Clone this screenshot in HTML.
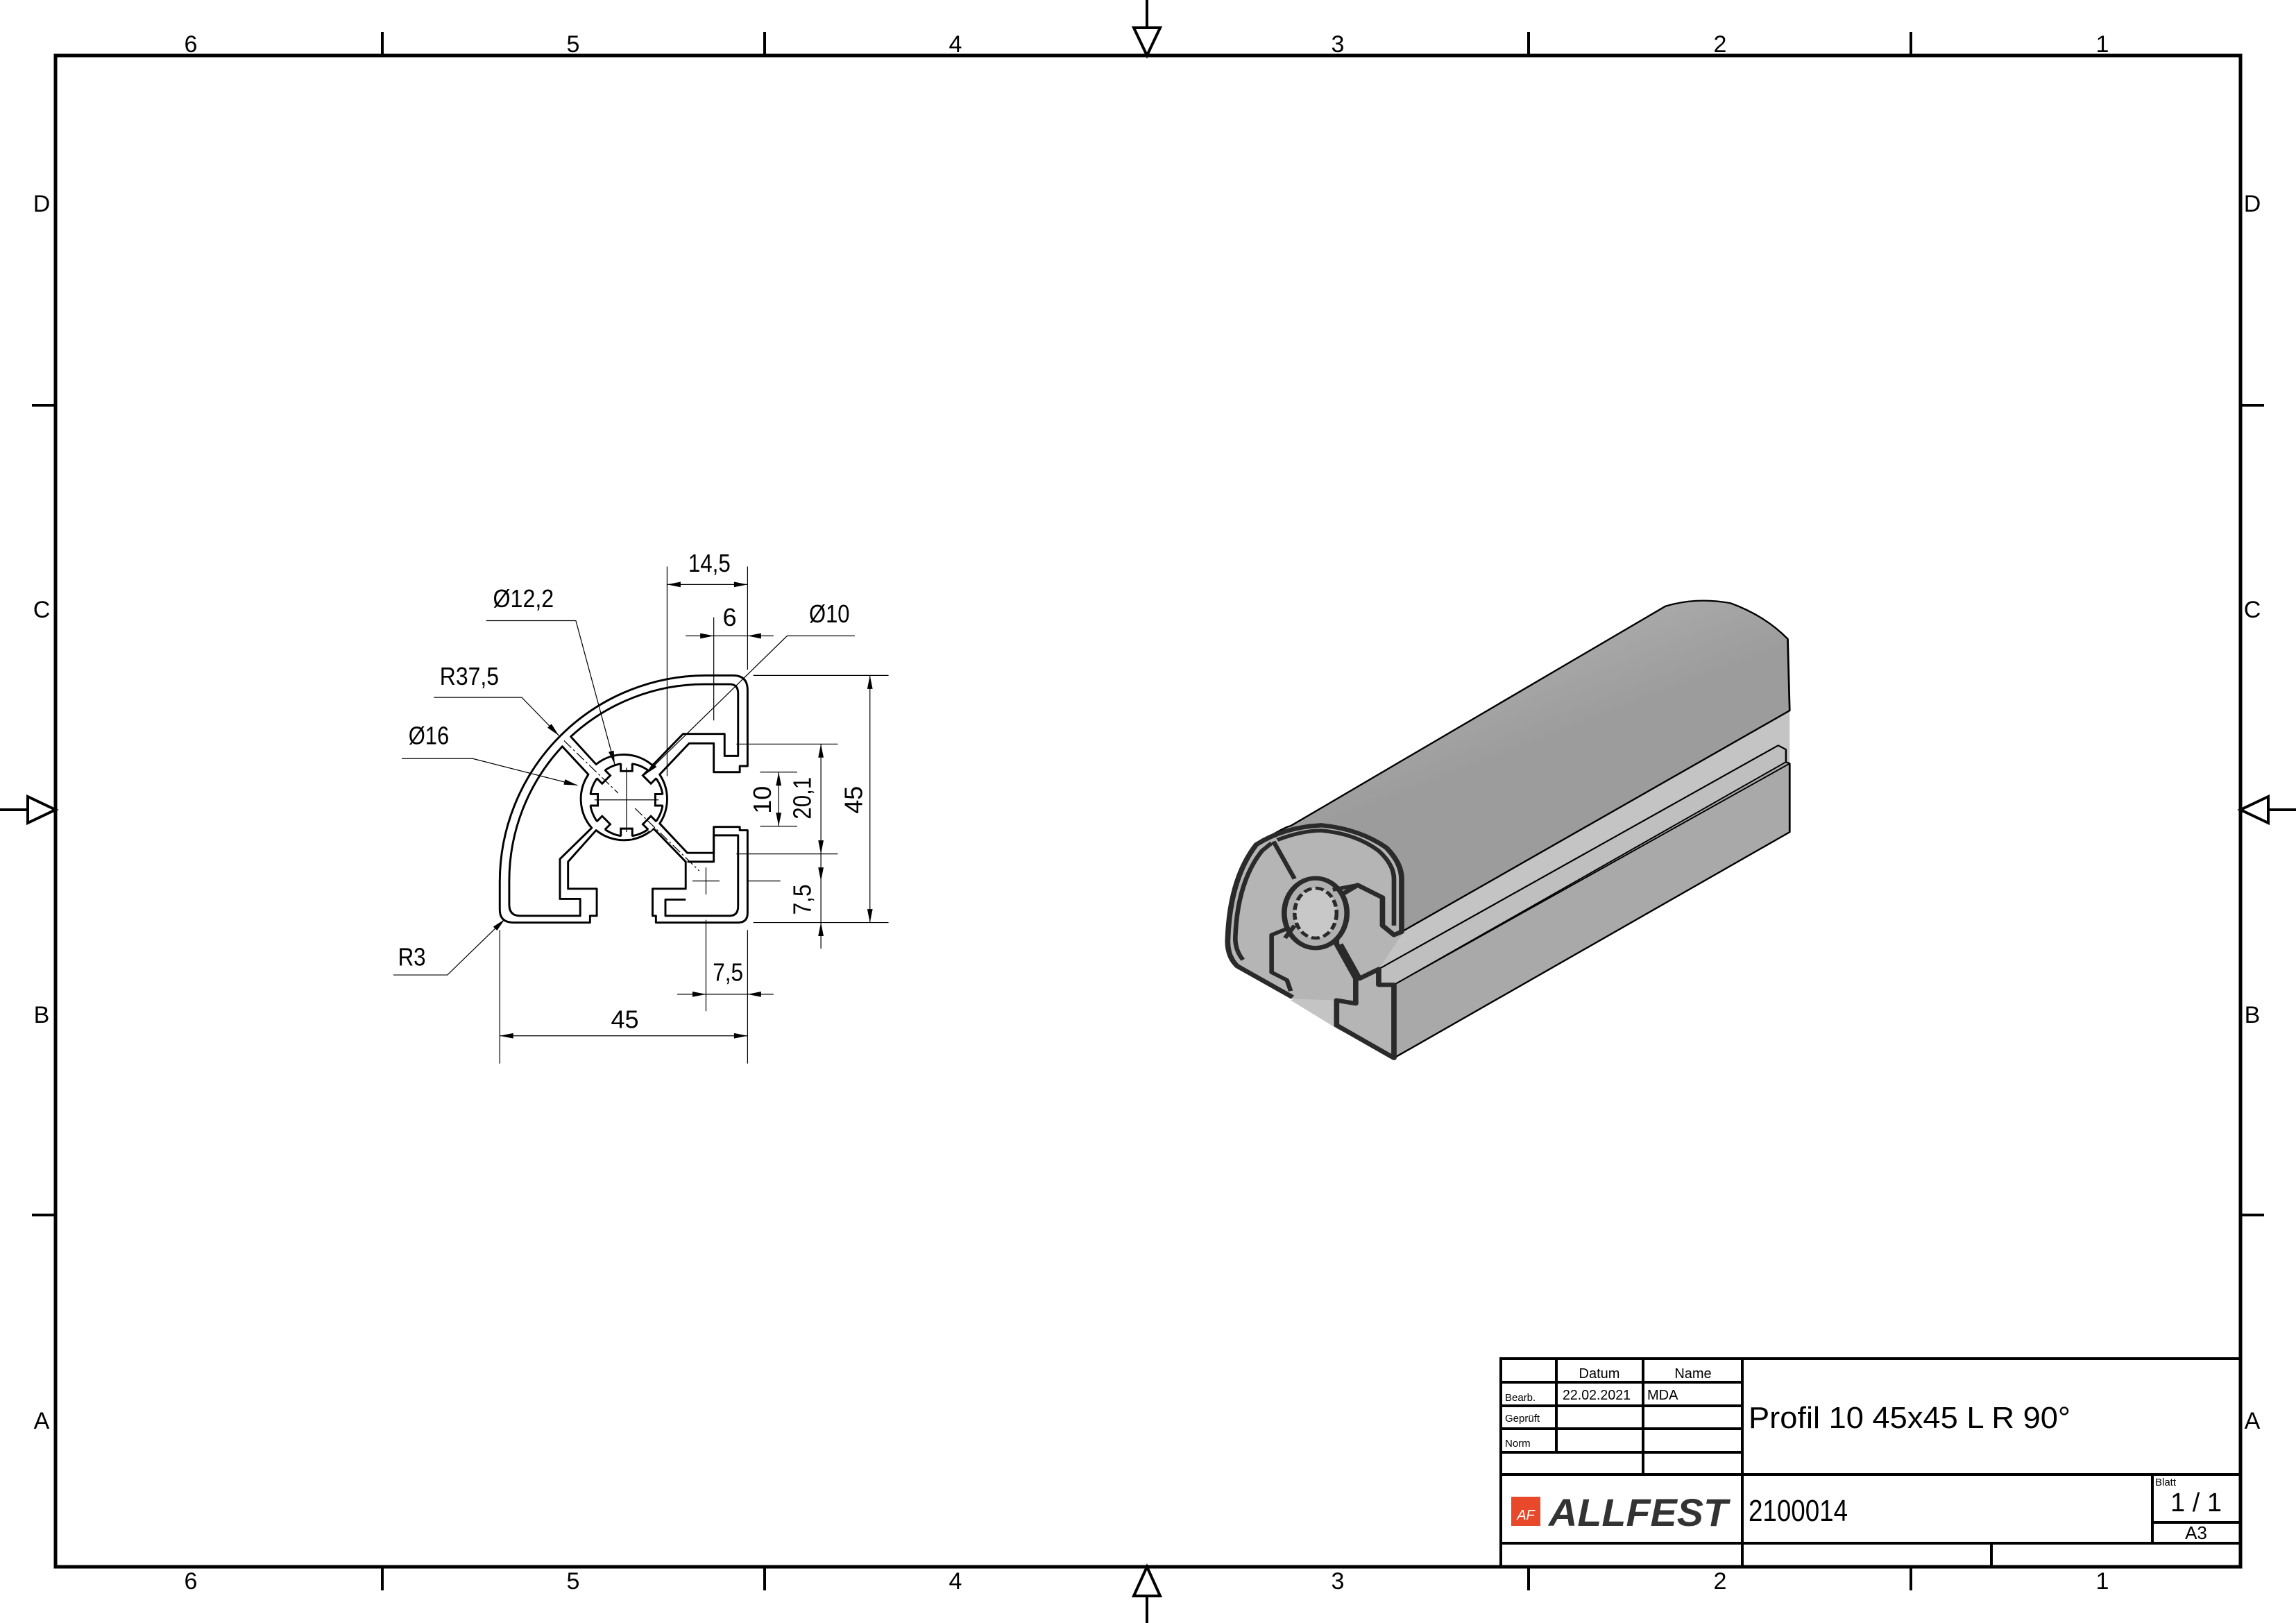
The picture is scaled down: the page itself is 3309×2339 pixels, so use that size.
<!DOCTYPE html>
<html><head><meta charset="utf-8"><style>
html,body{margin:0;padding:0;background:#fff}
svg{display:block}
text{font-family:"Liberation Sans Narrow","Liberation Sans",sans-serif;fill:#000}
</style></head><body>
<svg width="3309" height="2339" viewBox="0 0 3309 2339" xmlns="http://www.w3.org/2000/svg">
<defs>
<linearGradient id="sh" x1="0" y1="0" x2="0.35" y2="0.55">
<stop offset="0" stop-color="#9a9a9a"/><stop offset="0.45" stop-color="#bababa"/><stop offset="0.62" stop-color="#aaaaaa"/><stop offset="1" stop-color="#9c9c9c"/>
</linearGradient>
</defs>
<!-- border -->
<rect x="80" y="80" width="3149" height="2178" fill="none" stroke="#000" stroke-width="5"/>
<g stroke="#000" stroke-width="4">
<line x1="551" y1="46" x2="551" y2="80"/><line x1="1102" y1="46" x2="1102" y2="80"/><line x1="2203" y1="46" x2="2203" y2="80"/><line x1="2754" y1="46" x2="2754" y2="80"/>
<line x1="551" y1="2258" x2="551" y2="2292"/><line x1="1102" y1="2258" x2="1102" y2="2292"/><line x1="2203" y1="2258" x2="2203" y2="2292"/><line x1="2754" y1="2258" x2="2754" y2="2292"/>
<line x1="46" y1="584" x2="80" y2="584"/><line x1="46" y1="1751" x2="80" y2="1751"/>
<line x1="3229" y1="584" x2="3263" y2="584"/><line x1="3229" y1="1751" x2="3263" y2="1751"/>
<line x1="1653" y1="0" x2="1653" y2="40"/><line x1="1653" y1="2300" x2="1653" y2="2339"/>
<line x1="0" y1="1167" x2="40" y2="1167"/><line x1="3269" y1="1167" x2="3309" y2="1167"/>
</g>
<g fill="none" stroke="#000" stroke-width="4">
<polygon points="1634,40 1672,40 1653,80"/><polygon points="1634,2300 1672,2300 1653,2258"/>
<polygon points="40,1148 40,1186 80,1167"/><polygon points="3269,1148 3269,1186 3229,1167"/>
</g>
<g font-size="34" text-anchor="middle">
<text x="275" y="75">6</text><text x="826" y="75">5</text><text x="1377" y="75">4</text><text x="1928" y="75">3</text><text x="2479" y="75">2</text><text x="3030" y="75">1</text>
<text x="275" y="2290">6</text><text x="826" y="2290">5</text><text x="1377" y="2290">4</text><text x="1928" y="2290">3</text><text x="2479" y="2290">2</text><text x="3030" y="2290">1</text>
<text x="60" y="305">D</text><text x="60" y="890">C</text><text x="60" y="1474">B</text><text x="60" y="2059">A</text>
<text x="3246" y="305">D</text><text x="3246" y="890">C</text><text x="3246" y="1474">B</text><text x="3246" y="2059">A</text>
</g>

<!-- title block -->
<g stroke="#000" stroke-width="4" fill="none">
<rect x="2163" y="1958" width="1066" height="300"/>
<line x1="2163" y1="1992" x2="2511" y2="1992"/>
<line x1="2163" y1="2026" x2="2511" y2="2026"/>
<line x1="2163" y1="2059" x2="2511" y2="2059"/>
<line x1="2163" y1="2093" x2="2511" y2="2093"/>
<line x1="2163" y1="2125" x2="3229" y2="2125"/>
<line x1="2163" y1="2224" x2="3229" y2="2224"/>
<line x1="2243" y1="1958" x2="2243" y2="2093"/>
<line x1="2368" y1="1958" x2="2368" y2="2125"/>
<line x1="2511" y1="1958" x2="2511" y2="2258"/>
<line x1="3102" y1="2125" x2="3102" y2="2224"/>
<line x1="3102" y1="2194" x2="3229" y2="2194"/>
<line x1="2870" y1="2224" x2="2870" y2="2258"/>
</g>
<g font-size="20">
<text x="2305" y="1986" text-anchor="middle">Datum</text>
<text x="2440" y="1986" text-anchor="middle">Name</text>
<text x="2252" y="2017" textLength="98" lengthAdjust="spacingAndGlyphs">22.02.2021</text>
<text x="2374" y="2017">MDA</text>
</g>
<g font-size="15">
<text x="2169" y="2019">Bearb.</text>
<text x="2169" y="2049">Geprüft</text>
<text x="2169" y="2085">Norm</text>
<text x="3106" y="2141">Blatt</text>
</g>
<text x="2520" y="2058" font-size="44" textLength="464" lengthAdjust="spacingAndGlyphs">Profil 10 45x45 L R 90°</text>
<text x="2520" y="2192" font-size="44" textLength="143" lengthAdjust="spacingAndGlyphs">2100014</text>
<text x="3165" y="2178" font-size="38" text-anchor="middle">1 / 1</text>
<text x="3165" y="2218" font-size="26" text-anchor="middle">A3</text>
<rect x="2178" y="2157" width="42" height="42" fill="#e8492a"/>
<text x="2199" y="2190" font-size="20" text-anchor="middle" font-style="italic" style="fill:#fff">AF</text>
<text x="2232" y="2199" font-size="56" font-weight="bold" font-style="italic" textLength="258" lengthAdjust="spacingAndGlyphs" style="font-family:'Liberation Sans',sans-serif;fill:#333">ALLFEST</text>

<!-- 2D profile -->
<g transform="translate(540,780) scale(0.4872)">
<g fill="none" stroke="#000" stroke-width="6" stroke-linejoin="round">
<path d="M410,1128 L637,1128 L637,1108 L657,1108 L657,1028 L572,1028 L572,948 L655,855 A130,130 0 0 0 825,850 L920,948 L920,1028 L822,1028 L822,1108 L832,1108 L832,1128 L1075,1128 Q1103,1128 1103,1100 L1103,855 L1080,855 L1080,845 L1003,845 L1003,922 L925,922 L843,835 A130,130 0 0 0 843,690 L930,598 L1003,598 L1003,683 L1080,683 L1080,665 L1103,665 L1103,440 Q1103,397 1060,397 L981,397 A611,611 0 0 0 370,1006 L370,1090 Q370,1128 410,1128 Z"/>
<path d="M430,1108 L608,1108 L608,1058 L548,1058 L548,940 L642,848 A130,130 0 0 1 632,690 L555,607 A583,583 0 0 0 398,1006 L398,1075 Q398,1108 430,1108 Z"/>
<path d="M580,578 A583,583 0 0 1 981,423 L1050,423 Q1075,423 1075,450 L1075,635 L1035,635 L1035,570 L912,570 L822,663 A130,130 0 0 0 655,660 Z"/>
<path d="M925,948 L1003,948 L1003,870 L1075,870 L1075,1080 Q1075,1108 1050,1108 L860,1108 L860,1060 L920,1060"/>
<circle cx="745" cy="765" r="108"/>
</g>
<g>
<g id="n"><rect x="728" y="650" width="34" height="14" fill="#fff"/><polyline points="728,657 728,680 762,680 762,657" fill="none" stroke="#000" stroke-width="6"/></g>
<use href="#n" transform="rotate(45 745 765)"/><use href="#n" transform="rotate(90 745 765)"/><use href="#n" transform="rotate(135 745 765)"/>
<use href="#n" transform="rotate(180 745 765)"/><use href="#n" transform="rotate(225 745 765)"/><use href="#n" transform="rotate(270 745 765)"/><use href="#n" transform="rotate(315 745 765)"/>
</g>
<g stroke="#000" stroke-width="2.5" fill="none">
<line x1="650" y1="765" x2="840" y2="765"/><line x1="745" y1="670" x2="745" y2="860"/>
<line x1="560" y1="590" x2="720" y2="745" stroke-dasharray="30,8,6,8"/>
<line x1="770" y1="790" x2="960" y2="975" stroke-dasharray="30,8,6,8"/>
<line x1="940" y1="1005" x2="1020" y2="1005"/><line x1="980" y1="965" x2="980" y2="1045"/>
<line x1="865" y1="75" x2="865" y2="695"/><line x1="1103" y1="75" x2="1103" y2="380"/>
<line x1="1003" y1="225" x2="1003" y2="530"/>
<line x1="1120" y1="397" x2="1520" y2="397"/><line x1="1120" y1="1128" x2="1520" y2="1128"/>
<line x1="1070" y1="600" x2="1370" y2="600"/><line x1="1070" y1="925" x2="1370" y2="925"/>
<line x1="1140" y1="683" x2="1250" y2="683"/><line x1="1140" y1="843" x2="1250" y2="843"/>
<line x1="1100" y1="1005" x2="1200" y2="1005"/>
<line x1="370" y1="1150" x2="370" y2="1545"/><line x1="1103" y1="1150" x2="1103" y2="1545"/>
<line x1="980" y1="1120" x2="980" y2="1390"/>
<line x1="865" y1="128" x2="1103" y2="128"/>
<line x1="920" y1="280" x2="1180" y2="280"/>
<line x1="370" y1="1463" x2="1103" y2="1463"/>
<line x1="895" y1="1340" x2="1180" y2="1340"/>
<line x1="1465" y1="397" x2="1465" y2="1128"/>
<line x1="1320" y1="600" x2="1320" y2="1205"/>
<line x1="1195" y1="683" x2="1195" y2="843"/>
<polyline points="330,235 595,235 710,660"/>
<polyline points="175,462 435,462 545,575"/>
<polyline points="80,643 290,643 600,722"/>
<polyline points="1420,280 1220,280 800,690"/>
<polyline points="55,1283 215,1283 385,1118"/>
</g>
<g fill="#000">
<polygon points="865,128 905,120 905,136"/><polygon points="1103,128 1063,120 1063,136"/>
<polygon points="1003,280 963,272 963,288"/><polygon points="1103,280 1143,272 1143,288"/>
<polygon points="370,1463 410,1455 410,1471"/><polygon points="1103,1463 1063,1455 1063,1471"/>
<polygon points="980,1340 940,1332 940,1348"/><polygon points="1103,1340 1143,1332 1143,1348"/>
<polygon points="1465,397 1457,437 1473,437"/><polygon points="1465,1128 1457,1088 1473,1088"/>
<polygon points="1320,600 1312,640 1328,640"/><polygon points="1320,925 1312,885 1328,885"/>
<polygon points="1195,683 1187,723 1203,723"/><polygon points="1195,843 1187,803 1203,803"/>
<polygon points="1320,1005 1312,965 1328,965"/><polygon points="1320,1128 1312,1168 1328,1168"/>
<polygon points="710,660 707.3,619.3 691.9,623.5"/>
<polygon points="545,575 522.9,540.4 511.3,551.6"/>
<polygon points="600,722 563.2,704.3 559.2,719.9"/>
<polygon points="800,690 834.2,667.7 823,656.3"/>
<polygon points="385,1118 361.9,1151.5 350.7,1140.1"/>
</g>
<g font-size="74">
<text x="990" y="90" text-anchor="middle" textLength="125" lengthAdjust="spacingAndGlyphs">14,5</text>
<text x="1050" y="250" text-anchor="middle">6</text>
<text x="1345" y="240" text-anchor="middle" textLength="120" lengthAdjust="spacingAndGlyphs">Ø10</text>
<text x="440" y="195" text-anchor="middle" textLength="180" lengthAdjust="spacingAndGlyphs">Ø12,2</text>
<text x="280" y="425" text-anchor="middle" textLength="175" lengthAdjust="spacingAndGlyphs">R37,5</text>
<text x="160" y="600" text-anchor="middle" textLength="120" lengthAdjust="spacingAndGlyphs">Ø16</text>
<text x="110" y="1255" text-anchor="middle" textLength="82" lengthAdjust="spacingAndGlyphs">R3</text>
<text x="740" y="1440" text-anchor="middle">45</text>
<text x="1045" y="1300" text-anchor="middle" textLength="90" lengthAdjust="spacingAndGlyphs">7,5</text>
<text transform="translate(1442,765) rotate(-90)" text-anchor="middle">45</text>
<text transform="translate(1290,760) rotate(-90)" text-anchor="middle" textLength="125" lengthAdjust="spacingAndGlyphs">20,1</text>
<text transform="translate(1172,765) rotate(-90)" text-anchor="middle">10</text>
<text transform="translate(1290,1060) rotate(-90)" text-anchor="middle" textLength="90" lengthAdjust="spacingAndGlyphs">7,5</text>
</g>
</g>

<!-- isometric view -->
<g transform="translate(1750,840) scale(0.551,0.449)" stroke-linejoin="round">
<polygon points="200,1340 490,1120 1505,410 1505,580 470,1525 320,1430" fill="#c4c4c4"/>
<polygon points="430,1240 1475,522 1495,535 1495,575 1505,580 1505,800 470,1525 430,1500" fill="#a9a9a9" stroke="#000" stroke-width="5"/>
<polygon points="430,1240 1475,522 1495,535 1495,575 470,1290 430,1290" fill="#bfbfbf" stroke="#000" stroke-width="4"/>
<line x1="470" y1="1290" x2="1505" y2="580" stroke="#000" stroke-width="4"/>
<path d="M35,1150 Q40,950 110,840 Q180,785 200,780 L1180,75 Q1260,45 1350,65 Q1440,105 1500,180 L1505,410 L490,1120 L490,950 Q490,900 450,850 Q380,790 280,778 Q180,785 110,840 Z" fill="url(#sh)" stroke="#000" stroke-width="5"/>
<!-- front face backing -->
<path d="M35,1150 Q40,950 110,840 Q180,785 280,778 Q380,790 450,850 Q490,900 490,950 L490,1130 L430,1240 L430,1290 L470,1290 L470,1525 L320,1430 L320,1340 L205,1335 L60,1230 Z" fill="#b5b5b5"/>
<path d="M205,1330 L60,1230 Q35,1200 35,1150 Q40,950 110,840 Q180,785 280,778 Q380,790 450,850 Q490,900 490,950 L490,1120 L470,1130 L440,1100 L440,1010 L375,970 L320,1010 L320,1160 L370,1270 L370,1350 L320,1340 L320,1420 L470,1525 L470,1290 L430,1290 L430,1240 L380,1270 L330,1160" fill="none" stroke="#2a2a2a" stroke-width="14"/>
<path d="M200,1310 L190,1275 L150,1250 L150,1130 L210,1100 M155,830 L210,950 M75,1210 Q55,1180 55,1140 Q60,960 125,860 L150,835 M165,825 Q230,795 280,795 Q370,805 430,860 Q470,905 470,950 L470,1100" fill="none" stroke="#2a2a2a" stroke-width="12"/>
<ellipse cx="265" cy="1060" rx="82" ry="112" fill="#b0b0b0" stroke="#2a2a2a" stroke-width="14"/>
<ellipse cx="265" cy="1060" rx="55" ry="80" fill="#c8c8c8" stroke="#2a2a2a" stroke-width="10" stroke-dasharray="22,10"/>
<path d="M310,985 L375,970 M210,1100 L185,1140" stroke="#2a2a2a" stroke-width="12" fill="none"/>
</g>
</svg>
</body></html>
